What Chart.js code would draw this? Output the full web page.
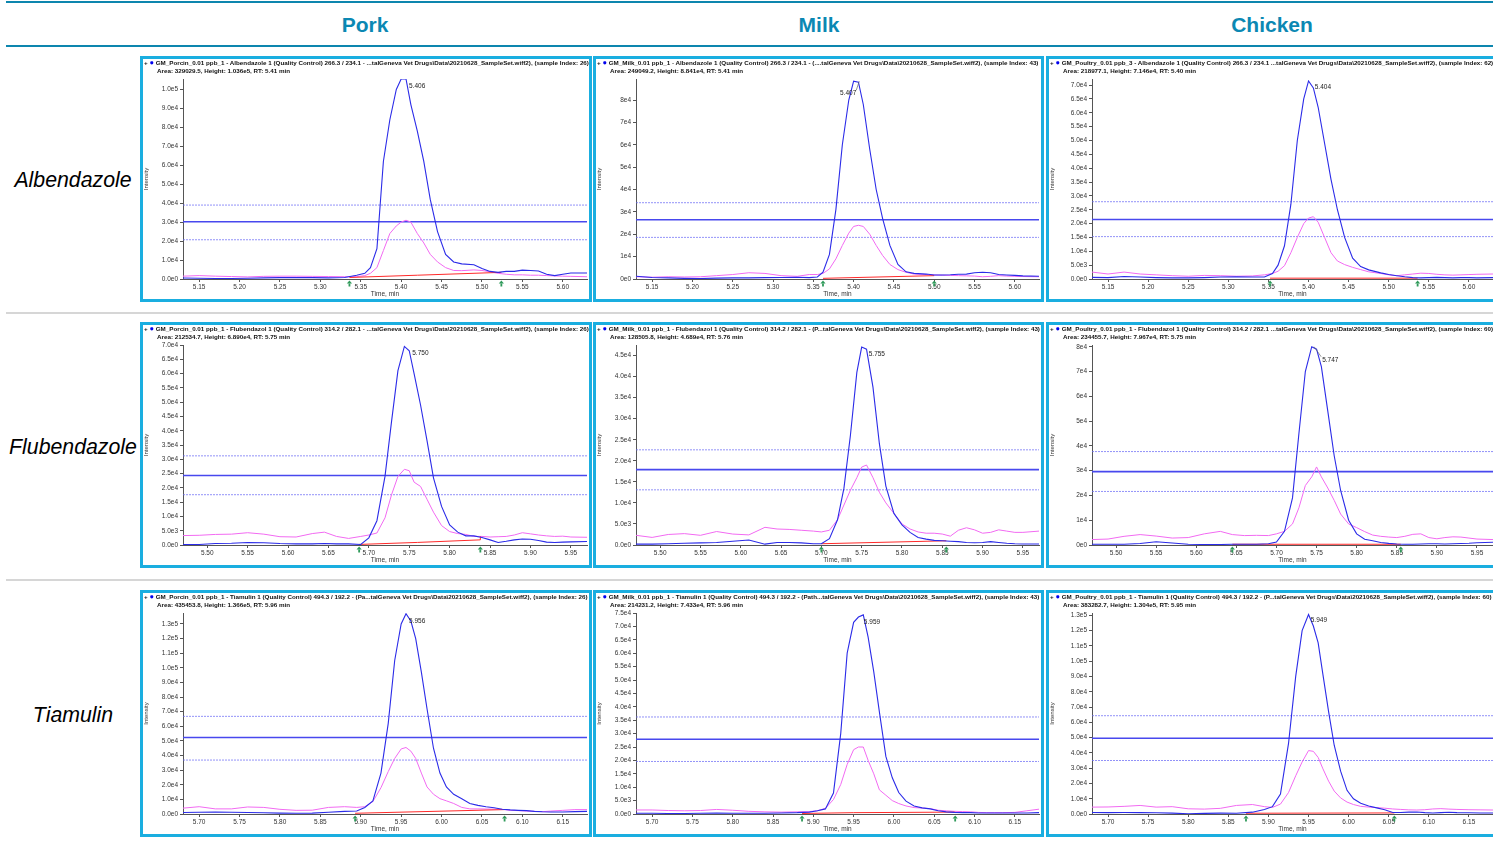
<!DOCTYPE html>
<html><head><meta charset="utf-8">
<script src="https://cdn.jsdelivr.net/npm/chart.js@4.4.1/dist/chart.umd.min.js"></script>
<style>
body{margin:0;width:1493px;height:846px;background:#fff;position:relative;overflow:hidden;font-family:'Liberation Sans',Arial,sans-serif}
.hl{position:absolute;left:6px;width:1487px;height:2px;background:#0d86ae}
.sep{position:absolute;left:6px;width:1487px;height:2px;background:#d6d6d6}
.colt{position:absolute;top:13px;font:bold 21px 'Liberation Sans Narrow','Liberation Sans',Arial;color:#0b88b3;transform:translateX(-50%);white-space:nowrap}
.rowt{position:absolute;font:italic 21.3px 'Liberation Sans',Arial;color:#000;transform:translate(-50%,-50%);white-space:nowrap}
.panel{position:absolute;border:3px solid #1aaee0;box-sizing:border-box;background:#fff;overflow:hidden}
.panel canvas{position:absolute;left:0;top:0}
.hdr{position:absolute;left:1px;top:0;font:bold 6.25px 'Liberation Sans',Arial;line-height:8px;white-space:nowrap;color:#111;z-index:2}
.hdr .l2{padding-left:13px}
.dot{color:#0000ee;font-size:7.5px}
</style>
</head><body>
<div class="hl" style="top:1px"></div>
<div class="hl" style="top:45px"></div>
<div class="sep" style="top:312px"></div>
<div class="sep" style="top:579px"></div>
<script>
// ---------- categories ----------
const COLUMNS = ['Pork', 'Milk', 'Chicken'];
const COMPOUNDS = ['Albendazole', 'Flubendazole', 'Tiamulin'];

// ---------- time grids (min) ----------
const T_ALB = [5.13,5.15,5.17,5.19,5.21,5.23,5.25,5.27,5.29,5.31,5.33,5.345,5.355,5.362,5.37,5.378,5.386,5.394,5.40,5.406,5.412,5.42,5.428,5.436,5.445,5.455,5.465,5.475,5.49,5.50,5.51,5.52,5.53,5.54,5.55,5.56,5.57,5.58,5.59,5.60,5.61,5.63];
const T_FLU = [5.47,5.49,5.51,5.53,5.55,5.57,5.59,5.61,5.63,5.645,5.66,5.675,5.69,5.70,5.71,5.72,5.728,5.736,5.744,5.75,5.756,5.764,5.772,5.78,5.79,5.80,5.81,5.82,5.83,5.84,5.85,5.86,5.87,5.88,5.89,5.90,5.91,5.92,5.93,5.94,5.95,5.97];
const T_TIA = [5.68,5.70,5.72,5.74,5.76,5.78,5.80,5.82,5.84,5.86,5.88,5.895,5.905,5.915,5.925,5.934,5.942,5.95,5.956,5.962,5.968,5.975,5.982,5.99,5.998,6.006,6.015,6.025,6.035,6.045,6.055,6.065,6.075,6.085,6.095,6.105,6.115,6.125,6.135,6.15,6.165,6.18];
const X_ALB = [5.13, 5.63];
const X_FLU = [5.47, 5.97];
const X_TIA = [5.68, 6.18];
const X_STEP = 0.05;

// ---------- Albendazole ----------
const porkAlbBlue = [500,400,300,300,400,600,700,700,700,600,800,2000,3000,6000,16000,62000,84000,100000,105500,105500,92000,78000,62000,42000,25000,13000,9000,8000,7500,5500,4000,3500,4000,4000,4700,4500,4200,2500,1800,2500,3200,3200];
const porkAlbPink = [1500,1800,1500,1300,1100,1400,1500,1500,1400,1300,1200,1200,1800,3000,6000,15000,24000,28000,30000,31000,30000,24000,19000,13000,9000,6000,4500,4400,4800,4500,3800,3000,2500,2200,2200,2000,2000,1800,1600,1500,1400,1200];
const milkAlbBlue = [1200,700,500,300,200,400,500,500,600,700,800,600,900,3000,11000,31000,60000,80000,88400,88000,78000,58000,40000,27000,15000,6500,3200,2500,2200,1800,1800,1900,2100,2200,2800,3000,2800,2000,1800,1600,1400,1200];
const milkAlbPink = [1000,800,1000,900,1000,1500,2000,2800,2500,1500,1200,2000,2000,2500,4500,9000,15000,20500,23500,24000,23500,20000,15000,10500,6500,4200,3000,2200,2000,1800,1700,1600,1500,1400,1300,1000,1200,1500,1300,1200,1100,1000];
const chickenAlbBlue = [600,500,900,700,500,400,400,500,700,800,700,700,2000,5000,12000,27000,50000,65000,71500,69000,62000,49000,36000,25000,15000,7500,4500,3300,2200,1600,1200,800,500,400,500,600,500,400,500,500,400,500];
const chickenAlbPink = [2500,1800,2500,1800,1500,1200,1000,1300,1200,1000,1100,1500,2000,2800,4800,9500,15000,20000,22000,22500,20500,15000,9500,6500,5200,4200,3400,2600,2000,1500,1200,1500,1800,2100,2000,1700,1500,1400,1500,1600,1700,1800];

// ---------- Flubendazole ----------
const porkFluBlue = [200,200,500,600,900,800,500,400,400,500,400,400,200,2500,8500,24000,43000,61000,69500,68000,60000,49000,36500,23500,13500,7000,4500,3200,3200,2600,1800,900,1300,1800,2100,2000,1600,1000,900,1000,1100,1200];
const porkFluPink = [3300,3400,3700,3800,4300,3800,2900,2800,4000,4500,3000,2300,3000,3500,4200,9500,17500,24000,26500,26000,22000,20500,16000,11500,6800,4700,4000,3700,3000,3000,2800,2900,3000,3500,4300,3900,3500,3200,3000,3100,2800,2700];
const milkFluBlue = [200,200,300,400,500,600,900,1200,200,600,600,500,300,300,1500,6000,13500,26000,41000,47000,46500,37500,24000,14000,7500,4800,3000,1800,1400,1100,1000,900,800,600,550,600,800,600,400,300,250,250];
const milkFluPink = [2300,1800,2500,2700,2300,3200,2600,2400,4200,3800,3700,3500,3300,3100,3500,6000,9500,13000,16000,18500,19000,16000,12500,10000,7500,5000,3800,3100,2800,2800,2600,2100,3500,4100,3600,2800,3000,3600,3300,3000,3000,3300];
const chickenFluBlue = [300,300,300,600,1300,800,300,200,200,300,300,300,500,1200,5500,19000,45000,70000,80000,79000,72000,54000,36000,22000,10000,4500,2300,1700,1000,650,400,300,300,400,500,500,400,500,600,700,900,1100];
const chickenFluPink = [2200,2400,3500,4200,3600,2800,3000,4500,5500,4200,3800,3900,3800,4500,5500,8500,15000,24000,27500,31500,27500,23000,18000,12500,8500,7000,5400,4000,3500,3200,3000,3500,4300,4500,3000,2500,3000,3300,3200,2800,2400,2200];

// ---------- Tiamulin ----------
const porkTiaBlue = [1000,1200,1300,1200,1000,900,600,500,600,1200,1800,2000,4500,9000,28000,62000,105000,130000,137000,132000,120000,97000,72000,45000,28000,18500,13500,10400,7200,5900,5000,4300,3300,2800,2500,2300,1800,1500,1400,1400,1600,1800];
const porkTiaPink = [4000,5000,3500,3500,4800,4500,3200,2500,2600,4500,5000,4500,5000,8500,18000,29000,38000,44500,45500,43000,38000,28000,18500,13500,10500,9000,7200,4500,3500,3500,3400,3300,3200,2500,2300,2000,1800,1600,2000,2500,3000,3000];
const milkTiaBlue = [300,300,200,200,300,400,300,300,300,400,500,700,1200,1900,7800,30000,60000,71500,73500,74300,66000,53000,38000,21500,13500,8000,4800,3000,2300,1900,1200,800,600,500,500,400,400,400,400,400,400,500];
const milkTiaPink = [1500,1500,1300,1200,1300,1700,1400,1000,800,700,800,900,1200,2100,5400,11000,18500,24000,25000,25000,20000,15000,9000,7000,5000,3900,3000,2400,2200,2000,1400,1200,1000,900,800,600,500,500,500,600,1200,1800];
const chickenTiaBlue = [1000,900,1000,900,800,600,100,400,600,500,1200,3000,4800,13000,46000,90000,120000,130500,123000,112000,91000,67000,45000,28000,15500,10000,7000,5200,4000,2800,1000,1000,1200,1300,900,700,900,1100,900,800,700,700];
const chickenTiaPink = [4500,4600,5000,5600,4500,4800,3400,3200,3700,5600,6200,4800,4300,6500,14000,25000,34000,41500,41000,37000,29500,21500,15000,10500,7800,6200,5000,4500,4200,3800,3300,3000,2700,2600,2800,3300,3500,3200,3000,2800,2700,2600];

// ---------- integration baselines (red) ----------
const porkAlbRedT = [5.336, 5.42, 5.524],   porkAlbRedY = [800, 2000, 3500];
const milkAlbRedT = [5.362, 5.50],          milkAlbRedY = [300, 1500];
const chickenAlbRedT = [5.352, 5.536],      chickenAlbRedY = [300, 300];
const porkFluRedT = [5.688, 5.76, 5.838, 5.838], porkFluRedY = [200, 900, 1800, 3000];
const milkFluRedT = [5.70, 5.855],          milkFluRedY = [300, 1000];
const chickenFluRedT = [5.645, 5.855],      chickenFluRedY = [300, 300];
const porkTiaRedT = [5.893, 6.078],         porkTiaRedY = [500, 3000];
const milkTiaRedT = [5.886, 5.95, 6.076],   milkTiaRedY = [200, 500, 700];
const chickenTiaRedT = [5.872, 6.057],      chickenTiaRedY = [500, 700];

// ---------- ion-ratio tolerance lines [upper, target, lower] ----------
const porkAlbLines = [39000, 30200, 20700], milkAlbLines = [34100, 26500, 18600], chickenAlbLines = [27900, 21500, 15300];
const porkFluLines = [31200, 24300, 17600], milkFluLines = [22600, 17900, 13100], chickenFluLines = [37700, 29600, 21600];
const porkTiaLines = [66800, 52300, 36900], milkTiaLines = [36200, 27900, 19600], chickenTiaLines = [64300, 49600, 35000];

// ---------- y axis ranges / tick steps ----------
const Y_MAX  = [[105500, 89400, 72200], [70000, 47500, 80700], [137500, 75000, 131500]];
const Y_STEP = [[10000, 10000, 5000], [5000, 5000, 10000], [10000, 5000, 10000]];
const Y_DEC  = [[1, 0, 1], [1, 1, 0], [1, 1, 1]];

// ---------- peak RT labels ----------
const RT_LABELS = [['5.406', '5.407', '5.404'], ['5.750', '5.755', '5.747'], ['5.956', '5.959', '5.949']];

// ---------- header texts ----------
const HEAD1 = [
 ['GM_Porcin_0.01 ppb_1 - Albendazole 1 (Quality Control) 266.3 / 234.1 - ...taIGeneva Vet Drugs\\Data\\20210628_SampleSet.wiff2), (sample Index: 26)',
  'GM_Milk_0.01 ppb_1 - Albendazole 1 (Quality Control) 266.3 / 234.1 - (....taIGeneva Vet Drugs\\Data\\20210628_SampleSet.wiff2), (sample Index: 43)',
  'GM_Poultry_0.01 ppb_3 - Albendazole 1 (Quality Control) 266.3 / 234.1 ...taIGeneva Vet Drugs\\Data\\20210628_SampleSet.wiff2), (sample Index: 62)'],
 ['GM_Porcin_0.01 ppb_1 - Flubendazol 1 (Quality Control) 314.2 / 282.1 - ...taIGeneva Vet Drugs\\Data\\20210628_SampleSet.wiff2), (sample Index: 26)',
  'GM_Milk_0.01 ppb_1 - Flubendazol 1 (Quality Control) 314.2 / 282.1 - (P...taIGeneva Vet Drugs\\Data\\20210628_SampleSet.wiff2), (sample Index: 43)',
  'GM_Poultry_0.01 ppb_1 - Flubendazol 1 (Quality Control) 314.2 / 282.1 ...taIGeneva Vet Drugs\\Data\\20210628_SampleSet.wiff2), (sample Index: 60)'],
 ['GM_Porcin_0.01 ppb_1 - Tiamulin 1 (Quality Control) 494.3 / 192.2 - (Pa...taIGeneva Vet Drugs\\Data\\20210628_SampleSet.wiff2), (sample Index: 26)',
  'GM_Milk_0.01 ppb_1 - Tiamulin 1 (Quality Control) 494.3 / 192.2 - (Path...taIGeneva Vet Drugs\\Data\\20210628_SampleSet.wiff2), (sample Index: 43)',
  'GM_Poultry_0.01 ppb_1 - Tiamulin 1 (Quality Control) 494.3 / 192.2 - (P...taIGeneva Vet Drugs\\Data\\20210628_SampleSet.wiff2), (sample Index: 60)']
];
const HEAD2 = [
 ['Area: 329029.5, Height: 1.036e5, RT: 5.41 min', 'Area: 249049.2, Height: 8.841e4, RT: 5.41 min', 'Area: 218977.1, Height: 7.146e4, RT: 5.40 min'],
 ['Area: 212534.7, Height: 6.890e4, RT: 5.75 min', 'Area: 128505.8, Height: 4.689e4, RT: 5.76 min', 'Area: 234455.7, Height: 7.967e4, RT: 5.75 min'],
 ['Area: 435453.8, Height: 1.366e5, RT: 5.96 min', 'Area: 214231.2, Height: 7.433e4, RT: 5.96 min', 'Area: 383282.7, Height: 1.304e5, RT: 5.95 min']
];

// ---------- assemble ----------
const GRID_T = [T_ALB, T_FLU, T_TIA];
const GRID_X = [X_ALB, X_FLU, X_TIA];
const BLUE = [[porkAlbBlue, milkAlbBlue, chickenAlbBlue], [porkFluBlue, milkFluBlue, chickenFluBlue], [porkTiaBlue, milkTiaBlue, chickenTiaBlue]];
const PINK = [[porkAlbPink, milkAlbPink, chickenAlbPink], [porkFluPink, milkFluPink, chickenFluPink], [porkTiaPink, milkTiaPink, chickenTiaPink]];
const REDT = [[porkAlbRedT, milkAlbRedT, chickenAlbRedT], [porkFluRedT, milkFluRedT, chickenFluRedT], [porkTiaRedT, milkTiaRedT, chickenTiaRedT]];
const REDY = [[porkAlbRedY, milkAlbRedY, chickenAlbRedY], [porkFluRedY, milkFluRedY, chickenFluRedY], [porkTiaRedY, milkTiaRedY, chickenTiaRedY]];
const LINES = [[porkAlbLines, milkAlbLines, chickenAlbLines], [porkFluLines, milkFluLines, chickenFluLines], [porkTiaLines, milkTiaLines, chickenTiaLines]];

// layout (style, not data)
const colLeft = [140, 593, 1046], colWidth = [452, 451, 452];
const rowTop = [56, 322, 590], rowHeight = [246, 246, 247];
const yAxisW = [40, 40, 43];
const colCenter = [365, 819, 1272];
const rowCenter = [180, 447, 715];
const labelOff = [[{dx:3,dy:7},{dx:-3,dy:12,leader:true},{dx:3,dy:6}],
                  [{dx:3,dy:7},{dx:3,dy:7},{dx:8,dy:13,leader:true}],
                  [{dx:3,dy:7},{dx:3,dy:7},{dx:3,dy:6}]];

Chart.defaults.font.family = "'Liberation Sans', Arial, sans-serif";

function sci(v, dec) {
  if (Math.abs(v) < 1e-9) return dec ? '0.0e0' : '0e0';
  const e = Math.floor(Math.log10(v) + 1e-9);
  const m = v / Math.pow(10, e);
  return m.toFixed(dec) + 'e' + e;
}
// ticks on exact multiples of the step inside [lo, hi]
function stepTicks(lo, hi, step, digits) {
  return (axis) => {
    const out = [];
    for (let k = Math.ceil(lo / step - 1e-7); k * step <= hi + 1e-7; k++) out.push({value: +(k * step).toFixed(digits)});
    axis.ticks = out;
  };
}

const peakPlugin = {
  id: 'peak',
  afterDatasetsDraw(chart, args, o) {
    const {ctx, chartArea} = chart, xs = chart.scales.x, ys = chart.scales.y;
    ctx.save();
    ctx.fillStyle = '#2f9a5a';
    for (const t of o.marks) {
      const px = xs.getPixelForValue(t), py = chartArea.bottom + 1.5;
      ctx.beginPath(); ctx.moveTo(px - 2.6, py + 3); ctx.lineTo(px + 2.6, py + 3); ctx.lineTo(px, py); ctx.closePath(); ctx.fill();
      ctx.fillRect(px - 0.9, py + 3, 1.8, 3);
    }
    const ax = xs.getPixelForValue(o.rt), ay = Math.max(ys.getPixelForValue(o.apex), chartArea.top);
    const lx = ax + o.dx, ly = ay + o.dy;
    ctx.font = "6.5px 'Liberation Sans', Arial";
    ctx.fillStyle = '#222'; ctx.textBaseline = 'middle';
    ctx.textAlign = o.dx < 0 ? 'right' : 'left';
    ctx.fillText(o.text, lx, ly);
    if (o.leader) {
      ctx.strokeStyle = '#666'; ctx.lineWidth = 0.7;
      ctx.beginPath(); ctx.moveTo(ax, ay); ctx.lineTo(o.dx < 0 ? lx : lx - 1, ly - 3); ctx.stroke();
    }
    ctx.restore();
  }
};

// headers
COLUMNS.forEach((name, c) => {
  const d = document.createElement('div'); d.className = 'colt'; d.style.left = colCenter[c] + 'px'; d.textContent = name; document.body.appendChild(d);
});
COMPOUNDS.forEach((name, r) => {
  const d = document.createElement('div'); d.className = 'rowt'; d.style.left = '73px'; d.style.top = rowCenter[r] + 'px'; d.textContent = name; document.body.appendChild(d);
});

for (let r = 0; r < 3; r++) {
  for (let c = 0; c < 3; c++) {
    const panel = document.createElement('div');
    panel.className = 'panel';
    panel.style.left = colLeft[c] + 'px'; panel.style.top = rowTop[r] + 'px';
    panel.style.width = colWidth[c] + 'px'; panel.style.height = rowHeight[r] + 'px';
    const hdr = document.createElement('div'); hdr.className = 'hdr';
    const l1 = document.createElement('div');
    l1.innerHTML = '+ <span class="dot">●</span> ';
    l1.appendChild(document.createTextNode(HEAD1[r][c]));
    const l2 = document.createElement('div'); l2.className = 'l2'; l2.textContent = HEAD2[r][c];
    hdr.appendChild(l1); hdr.appendChild(l2);
    panel.appendChild(hdr);
    const cv = document.createElement('canvas');
    cv.width = colWidth[c] - 6; cv.height = rowHeight[r] - 6;
    panel.appendChild(cv);
    document.body.appendChild(panel);

    const T = GRID_T[r], xr = GRID_X[r];
    const blue = BLUE[r][c], pink = PINK[r][c];
    const lines = LINES[r][c];
    const redT = REDT[r][c], redY = REDY[r][c];
    const step = Y_STEP[r][c], dec = Y_DEC[r][c], ymax = Y_MAX[r][c];
    const apex = Math.max(...blue);
    const hline = (v) => [{x: xr[0], y: v}, {x: xr[1], y: v}];
    const common = {pointRadius: 0, tension: 0, fill: false};

    new Chart(cv, {
      type: 'line',
      data: {
        datasets: [
          Object.assign({label: 'quantifier', data: T.map((t, i) => ({x: t, y: blue[i]})), borderColor: '#2b2be8', borderWidth: 1.1}, common),
          Object.assign({label: 'baseline', data: redT.map((t, i) => ({x: t, y: redY[i]})), borderColor: '#ff2a2a', borderWidth: 1}, common),
          Object.assign({label: 'qualifier', data: T.map((t, i) => ({x: t, y: pink[i]})), borderColor: '#f26af2', borderWidth: 1}, common),
          Object.assign({label: 'upper', data: hline(lines[0]), borderColor: 'rgba(110,110,245,0.75)', borderWidth: 1, borderDash: [2, 1]}, common),
          Object.assign({label: 'target', data: hline(lines[1]), borderColor: '#4848ee', borderWidth: 1.6}, common),
          Object.assign({label: 'lower', data: hline(lines[2]), borderColor: 'rgba(110,110,245,0.75)', borderWidth: 1, borderDash: [2, 1]}, common)
        ]
      },
      options: {
        responsive: false, animation: false, events: [],
        layout: {padding: {top: 20, right: 2, left: 0, bottom: 0}},
        plugins: {
          legend: {display: false}, tooltip: {enabled: false},
          peak: Object.assign({marks: [redT[0], redT[redT.length - 1]], rt: parseFloat(RT_LABELS[r][c]), apex: apex, text: RT_LABELS[r][c]}, labelOff[r][c])
        },
        scales: {
          x: {
            type: 'linear', min: xr[0], max: xr[1], bounds: 'data',
            afterFit: (s) => { s.height = 20; },
            afterBuildTicks: stepTicks(xr[0], xr[1], X_STEP, 2),
            ticks: {autoSkip: false, maxRotation: 0, padding: 1, color: '#333', font: {size: 6.5}, callback: (v) => Number(v).toFixed(2)},
            grid: {drawOnChartArea: false, drawTicks: true, tickLength: 3, color: '#555'},
            border: {display: true, color: '#555', width: 1},
            title: {display: true, text: 'Time, min', color: '#333', font: {size: 6.5}, padding: 1}
          },
          y: {
            type: 'linear', min: 0, max: ymax, bounds: 'data',
            afterFit: (s) => { s.width = yAxisW[c]; },
            afterBuildTicks: stepTicks(0, ymax, step, 0),
            ticks: {autoSkip: false, padding: 2, color: '#333', font: {size: 6.5}, callback: (v) => sci(v, dec)},
            grid: {drawOnChartArea: false, drawTicks: true, tickLength: 3, color: '#555'},
            border: {display: true, color: '#555', width: 1},
            title: {display: true, text: 'Intensity', color: '#333', font: {size: 6}, padding: 0}
          }
        }
      },
      plugins: [peakPlugin]
    });
  }
}
</script>
</body></html>
